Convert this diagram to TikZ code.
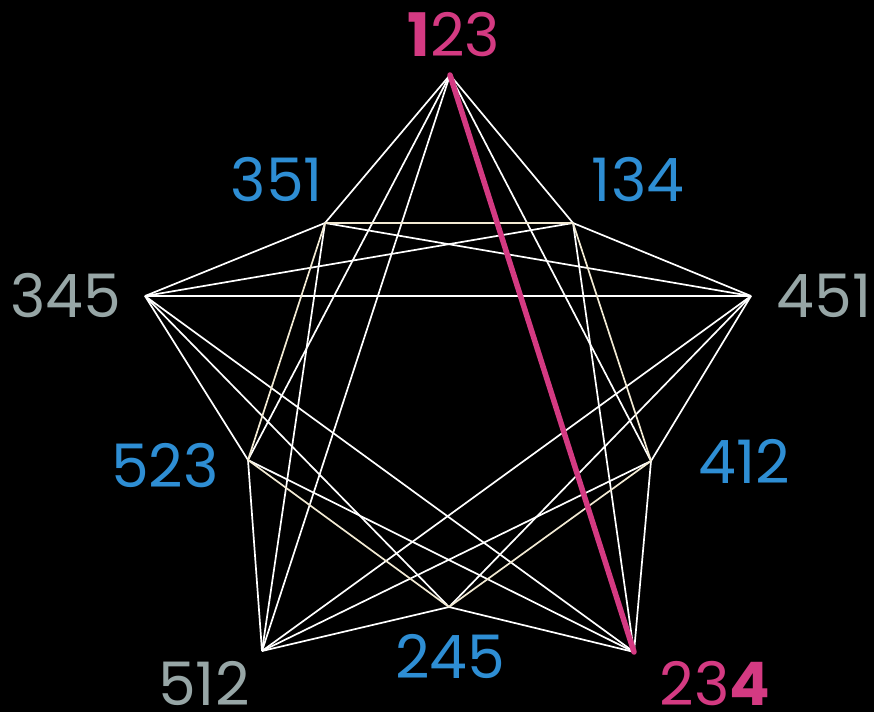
\documentclass[tikz,border=0pt]{standalone}
\usepackage{fontspec}
\setmainfont{Poppins}
\definecolor{mag}{HTML}{D43A82}
\definecolor{blu}{HTML}{2E8ED4}
\definecolor{gry}{HTML}{97A6A6}
\definecolor{crm}{HTML}{F2EAD3}
\tikzset{
  edge/.style={draw=white, line width=1.7pt},
  iedge/.style={draw=crm, line width=1.7pt},
  hot/.style={draw=mag, line width=5.5pt},
  lab/.style={font=\fontsize{60}{60}\selectfont, inner sep=0pt, anchor=center, text depth=0pt},
}
\begin{document}
\begin{tikzpicture}[x=1pt,y=-1pt]
\fill[black] (0,0) rectangle (874,712);
\useasboundingbox (0,0) rectangle (874,712);
% vertices
\coordinate (A) at (450,75);   % 123
\coordinate (B) at (634,652);  % 234
\coordinate (C) at (145,296);  % 345
\coordinate (D) at (751,296);  % 451
\coordinate (E) at (262,651);  % 512
\coordinate (F) at (573,223);  % 134
\coordinate (G) at (449,607);  % 245
\coordinate (H) at (325,223);  % 351
\coordinate (I) at (651,461);  % 412
\coordinate (J) at (248,460);  % 523
% edges
\foreach \a/\b in {A/E,A/F,A/H,A/I,A/J,
  B/C,B/F,B/G,B/I,B/J,
  C/D,C/F,C/G,C/H,C/J,
  D/E,D/F,D/G,D/H,D/I,
  E/G,E/H,E/I,E/J}
  \draw[edge] (\a) -- (\b);
\foreach \a/\b in {F/H,F/I,G/I,G/J,H/J}
  \draw[iedge] (\a) -- (\b);
\draw[hot, line cap=round] (A) -- (B);
% labels
\node[lab, text=mag] (lA) at (454,34) {\textbf{1}23};
\node[lab, text=mag] (lB) at (715,683) {23\textbf{4}};
\node[lab, text=gry] (lC) at (66,295) {345};
\node[lab, text=gry] (lD) at (824,296) {451};
\node[lab, text=gry] (lE) at (204,683) {512};
\node[lab, text=blu] (lF) at (638,179) {134};
\node[lab, text=blu] (lG) at (450,656) {245};
\node[lab, text=blu] (lH) at (277,179) {351};
\node[lab, text=blu] (lI) at (744,461) {412};
\node[lab, text=blu] (lJ) at (165,465) {523};
\end{tikzpicture}
\end{document}
